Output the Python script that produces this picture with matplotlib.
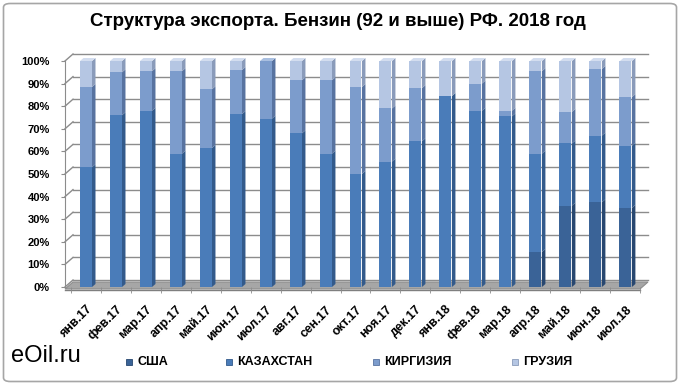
import matplotlib
matplotlib.use("Agg")
import matplotlib.pyplot as plt
from matplotlib.lines import Line2D
from matplotlib.patches import Polygon, Rectangle, FancyBboxPatch
from matplotlib.transforms import IdentityTransform
import numpy as np

plt.rcParams['font.family'] = ['Liberation Sans', 'DejaVu Sans']

categories = ["янв.17", "фев.17", "мар.17", "апр.17", "май.17", "июн.17", "июл.17",
              "авг.17", "сен.17", "окт.17", "ноя.17", "дек.17", "янв.18", "фев.18",
              "мар.18", "апр.18", "май.18", "июн.18", "июл.18"]
series_names = ["США", "КАЗАХСТАН", "КИРГИЗИЯ", "ГРУЗИЯ"]
usa = [0, 0, 0, 0, 0, 0, 0, 0, 0, 0, 0, 0, 0, 0, 0, 15.5, 36, 37.5, 35]
kaz = [53, 76, 78, 59, 61.5, 76.5, 74.5, 68, 59, 50, 55.5, 64.5, 84.5, 78, 75.5, 43.5, 27.5, 29.5, 27.5]
kir = [35.5, 19, 17.5, 36.5, 26, 19.5, 25.5, 23.5, 32.5, 38.5, 23.5, 23.5, 0, 12, 2.5, 36.5, 14, 29.5, 21.5]
geo = [11.5, 5, 4.5, 4.5, 12.5, 4, 0, 8.5, 8.5, 11.5, 21, 12, 15.5, 10, 22, 4.5, 22.5, 3.5, 16]
yticks = [0, 10, 20, 30, 40, 50, 60, 70, 80, 90, 100]
ytick_labels = ["0%", "10%", "20%", "30%", "40%", "50%", "60%", "70%", "80%", "90%", "100%"]
title = "Структура экспорта. Бензин (92 и выше) РФ. 2018 год"
watermark = "eOil.ru"

front_colors = ["#3A6397", "#4A7CB9", "#7C9CCC", "#B5C6E3"]
side_colors = ["#284770", "#335A8B", "#5873A0", "#8A9BBA"]
top_colors = ["#5A80B0", "#7DA0CF", "#A9BFE0", "#D3DDEF"]

W, H = 680, 384
fig = plt.figure(figsize=(W / 100, H / 100), dpi=100)
fig.patch.set_facecolor("white")
fig.patches.append(FancyBboxPatch((3.5 / W, 2.5 / H), (W - 7) / W, (H - 6) / H,
                                  boxstyle="round,pad=0,rounding_size=0.01",
                                  transform=fig.transFigure, facecolor="white",
                                  edgecolor="#A6A6A6", linewidth=1.2, zorder=-10))

ax = fig.add_axes([65 / W, (H - 287) / H, 575 / W, 226 / H])
ax.set_facecolor("none")
ax.set_xlim(-0.7, 18.47)
ax.set_ylim(0, 100)
for s in ["top", "right", "bottom"]:
    ax.spines[s].set_visible(False)
ax.spines["left"].set_color("#8C8C8C")

x = np.arange(len(categories))
ident = IdentityTransform()
gray = "#8C8C8C"
DX, DY = 8, 7  # depth of the walls in pixels


def disp(xd, yd):
    return ax.transData.transform((xd, yd))


xmin, xmax = ax.get_xlim()
# back wall gridlines and side wall diagonals
for v in yticks:
    x0, y0 = disp(xmin, v)
    x1, y1 = disp(xmax, v)
    ax.add_line(Line2D([x0 + DX, x1 + DX], [y0 + DY, y1 + DY], transform=ident,
                       color=gray, lw=1.0, clip_on=False, zorder=0.5))
    ax.add_line(Line2D([x0, x0 + DX], [y0, y0 + DY], transform=ident,
                       color=gray, lw=1.0, clip_on=False, zorder=0.5))

# floor
fx0, fy0 = disp(xmin, 0)
fx1, fy1 = disp(xmax, 0)
floor = Polygon([[fx0, fy0 - 2], [fx1, fy1 - 2], [fx1 + DX, fy1 - 2 + DY], [fx0 + DX, fy0 - 2 + DY]],
                closed=True, transform=ident, facecolor="#A6A6A6", edgecolor="#8C8C8C",
                lw=0.8, clip_on=False, zorder=0.8)
ax.add_patch(floor)
ax.add_line(Line2D([fx0, fx1], [fy0 - 3, fy1 - 3], transform=ident, color="#7F7F7F",
                   lw=1.0, clip_on=False, zorder=0.8))

# bars
data = [usa, kaz, kir, geo]
width = 0.4
bottom = np.zeros(len(categories))
sdx, sdy = 3.5, 3
for k, vals in enumerate(data):
    vals = np.array(vals, dtype=float)
    ax.bar(x, vals, width=width, bottom=bottom, color=front_colors[k], edgecolor="none",
           zorder=3, label=series_names[k])
    for i in range(len(categories)):
        if vals[i] <= 0:
            continue
        xr, yb = disp(x[i] + width / 2, bottom[i])
        _, yt = disp(x[i] + width / 2, bottom[i] + vals[i])
        ax.add_patch(Polygon([[xr, yb], [xr + sdx, yb + sdy], [xr + sdx, yt + sdy], [xr, yt]],
                             closed=True, transform=ident, facecolor=side_colors[k],
                             edgecolor="none", clip_on=False, zorder=2.9))
    bottom = bottom + vals

# top caps
for i in range(len(categories)):
    top_k = max(k for k in range(4) if data[k][i] > 0)
    xl, yt = disp(x[i] - width / 2, 100)
    xr, _ = disp(x[i] + width / 2, 100)
    ax.add_patch(Polygon([[xl, yt], [xr, yt], [xr + sdx, yt + sdy], [xl + sdx, yt + sdy]],
                         closed=True, transform=ident, facecolor=top_colors[top_k],
                         edgecolor="none", clip_on=False, zorder=3.1))

ax.set_xlim(xmin, xmax)
ax.set_ylim(0, 100)

ax.set_yticks(yticks)
ax.set_yticklabels(ytick_labels, fontsize=8, fontweight="bold")
ax.tick_params(axis="y", length=3, color=gray, pad=8)

ax.set_xticks(x)
ax.set_xticklabels(categories, rotation=45, ha="right", va="top", rotation_mode="anchor",
                   fontsize=9, fontweight="bold")
ax.tick_params(axis="x", length=0, pad=12)
ax.set_xticks(np.arange(-0.5, len(categories), 1), minor=True)
ax.tick_params(axis="x", which="minor", length=4, color=gray)

fig.text(338 / W, 1 - 21 / H, title, ha="center", va="center", fontsize=13.5, fontweight="bold")
fig.text(11 / W, 1 - 356 / H, watermark, ha="left", va="center", fontsize=17)

marker_x = [126, 226, 373, 512]
ly = 362
for k, name in enumerate(series_names):
    fig.patches.append(Rectangle(((marker_x[k]) / W, (H - ly - 3) / H), 6 / W, 6 / H,
                                 transform=fig.transFigure, facecolor=front_colors[k],
                                 edgecolor=side_colors[k], lw=0.6))
    fig.text((marker_x[k] + 11) / W, 1 - ly / H, name, ha="left", va="center",
             fontsize=9, fontweight="bold")

fig.savefig("out.png", dpi=100)
